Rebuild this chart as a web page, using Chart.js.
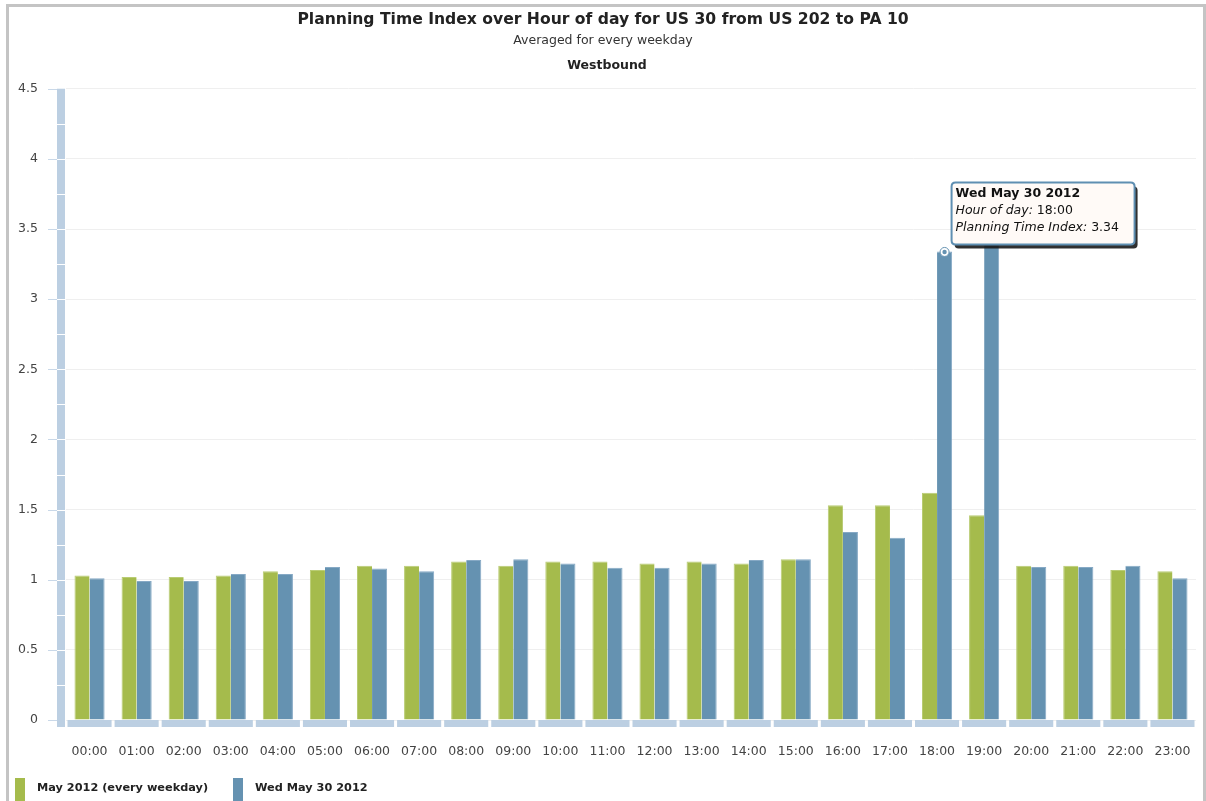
<!DOCTYPE html>
<html><head><meta charset="utf-8">
<script src="https://cdn.jsdelivr.net/npm/chart.js@4.4.0/dist/chart.umd.min.js"></script>
<style>
html,body{margin:0;padding:0;background:#fff;overflow:hidden;width:1206px;height:801px}
#frame{position:absolute;left:6px;top:4px;width:1194px;height:900px;border:3px solid #c4c4c4}
#wrap{position:absolute;left:0;top:0;width:1206px;height:801px}
</style></head>
<body>
<div id="frame"></div>
<div id="wrap"><canvas id="c" width="1206" height="801"></canvas></div>
<script>
const hours = ['00:00','01:00','02:00','03:00','04:00','05:00','06:00','07:00','08:00','09:00','10:00','11:00','12:00','13:00','14:00','15:00','16:00','17:00','18:00','19:00','20:00','21:00','22:00','23:00'];
const mayAvg = [1.03,1.02,1.02,1.03,1.06,1.07,1.10,1.10,1.13,1.10,1.13,1.13,1.115,1.13,1.115,1.145,1.53,1.53,1.62,1.46,1.10,1.10,1.07,1.06];
const wed30 = [1.01,0.99,0.99,1.04,1.04,1.09,1.08,1.06,1.14,1.145,1.115,1.085,1.085,1.115,1.14,1.145,1.34,1.30,3.34,3.45,1.09,1.09,1.10,1.01];
const seriesNames = ['May 2012 (every weekday)','Wed May 30 2012'];
const titleText = 'Planning Time Index over Hour of day for US 30 from US 202 to PA 10';
const subtitleText = 'Averaged for every weekday';
const directionText = 'Westbound';
const tipIndex = 18;
const tipSeries = 1;

const FONT = '"DejaVu Sans", Verdana, sans-serif';
const GREEN = '#a5bb4c';
const BLUE = '#6592b1';
const AXISBAR = '#bccfe2';

function roundRect(ctx,x,y,w,h,r){
  ctx.beginPath();
  ctx.moveTo(x+r,y);ctx.lineTo(x+w-r,y);ctx.quadraticCurveTo(x+w,y,x+w,y+r);
  ctx.lineTo(x+w,y+h-r);ctx.quadraticCurveTo(x+w,y+h,x+w-r,y+h);
  ctx.lineTo(x+r,y+h);ctx.quadraticCurveTo(x,y+h,x,y+h-r);
  ctx.lineTo(x,y+r);ctx.quadraticCurveTo(x,y,x+r,y);ctx.closePath();
}

const decor = {
  id:'decor',
  beforeDatasetsDraw(chart){
    const ctx = chart.ctx, ca = chart.chartArea, ys = chart.scales.y, xs = chart.scales.x;
    ctx.save();
    const yb = ys.getPixelForValue(0);
    ctx.fillStyle = AXISBAR;
    ctx.fillRect(ca.left-9, ca.top, 8, yb - ca.top + 7);
    ctx.strokeStyle = '#ffffff'; ctx.lineWidth = 1;
    for(let v=0.25; v<4.5; v+=0.25){
      const p = Math.round(ys.getPixelForValue(v))+0.5;
      ctx.beginPath(); ctx.moveTo(ca.left-9,p); ctx.lineTo(ca.left-1,p); ctx.stroke();
    }
    ctx.strokeStyle = '#c9d8e8';
    ys.ticks.forEach(t=>{
      const p = Math.round(ys.getPixelForValue(t.value))+0.5;
      ctx.beginPath(); ctx.moveTo(ca.left-18,p); ctx.lineTo(ca.left-9,p); ctx.stroke();
    });
    ctx.fillStyle = AXISBAR;
    const n = hours.length;
    for(let i=0;i<n;i++){
      const c = xs.getPixelForValue(i);
      const half = (ca.right-ca.left)/n/2;
      ctx.fillRect(c-half+1.5, yb, half*2-3, 7);
    }
    ctx.restore();
  },
  afterDraw(chart){
    const ctx = chart.ctx;
    ctx.save();
    ctx.fillStyle = '#222'; ctx.font = 'bold 12.5px '+FONT;
    ctx.textAlign = 'center'; ctx.textBaseline = 'middle';
    ctx.fillText(directionText, 607, 66);
    ctx.textAlign = 'left';
    ctx.font = 'bold 11.3px '+FONT;
    const cols = [GREEN, BLUE];
    const lx = [15, 233];
    chart.data.datasets.forEach((d,i)=>{
      ctx.fillStyle = cols[i];
      ctx.fillRect(lx[i], 778, 10, 26);
      ctx.fillStyle = '#222';
      ctx.fillText(d.label, lx[i]+22, 788);
    });
    const el = chart.getDatasetMeta(tipSeries).data[tipIndex];
    const mx = el.x, my = el.y;
    ctx.beginPath(); ctx.arc(mx,my+0.5,4.5,0,Math.PI*2);
    ctx.fillStyle = '#ffffff'; ctx.fill();
    ctx.lineWidth = 1; ctx.strokeStyle = BLUE; ctx.stroke();
    ctx.beginPath(); ctx.arc(mx,my+0.5,2.2,0,Math.PI*2); ctx.fillStyle = BLUE; ctx.fill();

    const tx = mx+7, ty = my-69, tw = 183, th = 62;
    ctx.fillStyle = 'rgba(25,25,25,0.9)';
    roundRect(ctx,tx+3,ty+4,tw,th,4); ctx.fill();
    ctx.fillStyle = '#fffaf7';
    roundRect(ctx,tx,ty,tw,th,4); ctx.fill();
    ctx.lineWidth = 2; ctx.strokeStyle = '#5f8fb2'; ctx.stroke();
    ctx.fillStyle = '#111'; ctx.textBaseline = 'middle';
    ctx.font = 'bold 12.5px '+FONT;
    ctx.fillText(chart.data.datasets[tipSeries].label, tx+4, ty+11);
    ctx.font = 'italic 12.5px '+FONT;
    const l1 = 'Hour of day:';
    ctx.fillText(l1, tx+4, ty+28);
    let w = ctx.measureText(l1+' ').width;
    ctx.font = '12.5px '+FONT;
    ctx.fillText(hours[tipIndex], tx+4+w, ty+28);
    ctx.font = 'italic 12.5px '+FONT;
    const l2 = 'Planning Time Index:';
    ctx.fillText(l2, tx+4, ty+45);
    w = ctx.measureText(l2+' ').width;
    ctx.font = '12.5px '+FONT;
    ctx.fillText(String(chart.data.datasets[tipSeries].data[tipIndex]), tx+4+w, ty+45);
    ctx.restore();
  }
};

new Chart(document.getElementById('c'), {
  type:'bar',
  data:{
    labels: hours,
    datasets:[
      {label: seriesNames[0], data: mayAvg, backgroundColor: GREEN, borderColor:'#b9cc73', borderWidth:{top:1,left:1,right:0,bottom:0}, barPercentage:1, categoryPercentage:0.64},
      {label: seriesNames[1], data: wed30, backgroundColor: BLUE, borderColor:'#86a9c5', borderWidth:{top:1,left:0,right:1,bottom:0}, barPercentage:1, categoryPercentage:0.64}
    ]
  },
  options:{
    responsive:false, animation:false, devicePixelRatio:1,
    layout:{padding:{left:10,right:10,top:0,bottom:43}},
    plugins:{
      legend:{display:false}, tooltip:{enabled:false},
      title:{display:true, text:titleText, color:'#222', font:{family:FONT,size:15.6,weight:'bold'}, padding:{top:11,bottom:3}},
      subtitle:{display:true, text:subtitleText, color:'#333', font:{family:FONT,size:12.5}, padding:{top:1,bottom:40}}
    },
    scales:{
      x:{grid:{display:false,drawTicks:false}, border:{display:false},
         ticks:{padding:24,color:'#444',font:{family:FONT,size:12.5},maxRotation:0,autoSkip:false},
         afterFit(s){s.height=38; s.paddingLeft=0; s.paddingRight=0;}},
      y:{min:0,max:4.5, grid:{color:'#efefef',drawTicks:false}, border:{display:false},
         ticks:{stepSize:0.5,padding:28,color:'#444',font:{family:FONT,size:12.5},
                callback:(v)=>String(+Number(v).toFixed(2))},
         afterFit(s){s.width=56; s.paddingTop=0; s.paddingBottom=0;}}
    }
  },
  plugins:[decor]
});
</script>
</body></html>
